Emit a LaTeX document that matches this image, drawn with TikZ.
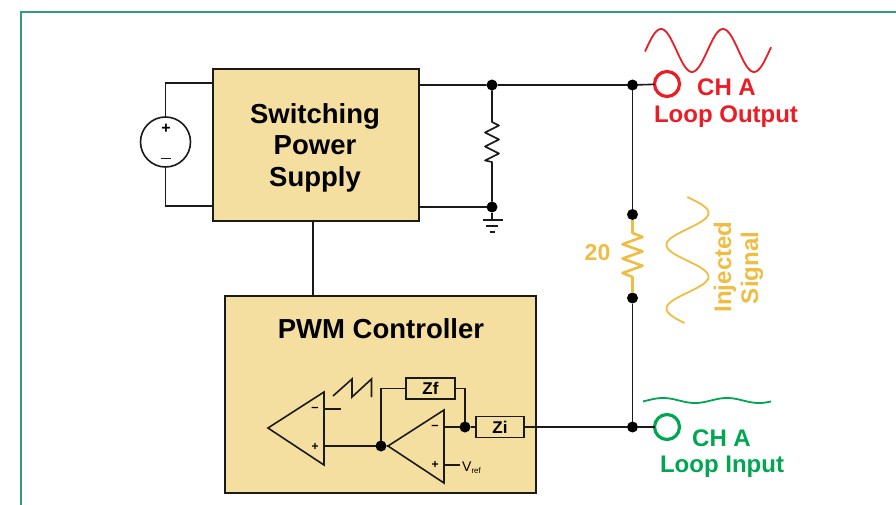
\documentclass[tikz,border=0pt]{standalone}
\usepackage{fontspec}
\setmainfont{Liberation Sans}
\definecolor{boxfill}{HTML}{F5DFA0}
\definecolor{wavered}{HTML}{ED1C24}
\definecolor{wavegreen}{HTML}{00A651}
\definecolor{waveyellow}{HTML}{F0BC42}
\definecolor{framegreen}{HTML}{2F9E7A}
\definecolor{ink}{HTML}{1A1A1A}
\newcommand{\fs}[1]{\fontsize{#1}{#1}\selectfont}
\tikzset{
  wire/.style={draw=ink,line width=1.6pt},
  block/.style={draw=ink,line width=1.6pt,fill=boxfill,inner sep=0pt,outer sep=0pt},
  zbox/.style={block,font=\fs{17}\bfseries},
  dot/.style={circle,fill=black,inner sep=0pt,minimum size=11pt,outer sep=0pt},
  probe/.style={circle,draw,fill=white,line width=3.2pt,inner sep=0pt,minimum size=25pt,outer sep=0pt},
  lab/.style={anchor=base,inner sep=0pt,font=\fs{24}\bfseries},
  title/.style={anchor=base,inner sep=0pt,font=\fs{27.5}\bfseries},
  sign/.style={inner sep=0pt,font=\fs{12}\bfseries},
  wave/.style={line width=1.8pt,smooth,samples=90}
}
\begin{document}
\begin{tikzpicture}[x=1pt,y=-1pt,line join=miter]
\useasboundingbox (0,0) rectangle (896,505);
\draw[framegreen,line width=1.5pt] (896,12) -- (21,12) -- (21,505);

% blocks
\node[block,minimum width=206pt,minimum height=152pt] (sup) at (316,145) {};
\node[title] (t1) at (315,124) {Switching};
\node[title] (t2) at (315,155) {Power};
\node[title] (t3) at (315,186) {Supply};
\node[block,minimum width=311pt,minimum height=197pt] (pwm) at (380.5,394.5) {};
\node[title] (t4) at (381,338.5) {PWM Controller};
\draw[wire] (313,221) coordinate (supb) -- (313,296) coordinate (pwmt);

% source
\node[circle,draw=ink,line width=1.6pt,fill=white,minimum size=50pt,inner sep=0pt,outer sep=0pt] (src) at (165.5,142) {};
\node[sign,font=\fs{16}\bfseries] (srcp) at (166,129) {+};
\draw[ink,line width=1.4pt] (160.5,158.5) coordinate (mL) -- (171,158.5) coordinate (mR);
\coordinate (sa) at (213,83);
\coordinate (sb) at (213,206);
\draw[wire] (src.north) |- (sa);
\draw[wire] (src.south) |- (sb);

% output rail
\node[dot] (d1) at (492,85) {};
\node[dot] (d2) at (492,207) {};
\node[dot] (d3) at (632.5,85) {};
\node[dot] (d4) at (632.5,214.5) {};
\node[dot] (d5) at (632.5,298) {};
\node[dot] (d6) at (632.5,427) {};
\node[probe,draw=wavered] (pa) at (667,84) {};
\node[probe,draw=wavegreen] (pb) at (667,427) {};
\draw[wire] (419,85) -- (d1) -- (d3) -- (pa);
\draw[wire] (419,207) -- (d2);
\draw[wire] (d3) -- (d4);
\draw[wire] (d5) -- (d6);
\draw[wire] (d6) -- (pb);

% load resistor
\coordinate (r1t) at (492,122);
\coordinate (r1b) at (492,162);
\draw[wire,line join=round] (d1) -- (r1t) -- ++(7,3.5) -- ++(-14,7) -- ++(14,7) -- ++(-14,7) -- ++(14,7) -- ++(-14,7) -- (r1b) -- (d2);

% ground
\coordinate (g0) at (492,220);
\draw[wire] (d2) -- (g0);
\draw[ink,line width=1.6pt] (482.5,220) -- (502.5,220);
\draw[ink,line width=1.6pt] (486,226) -- (498,226);
\draw[ink,line width=1.6pt] (489.5,232) -- (494.5,232);

% injection resistor
\coordinate (r2t) at (632.5,233);
\coordinate (r2b) at (632.5,277);
\draw[waveyellow,line width=2.6pt,line join=round] (d4) -- (r2t) -- ++(10,4) -- ++(-20,7.2) -- ++(20,7.2) -- ++(-20,7.2) -- ++(20,7.2) -- ++(-20,7.2) -- (r2b) -- (d5);
\node[anchor=base,inner sep=0pt,font=\fs{23}\bfseries,text=waveyellow] (n20) at (597.5,260) {20};

% waves
\draw[wavered,wave] plot[domain=645:771] (\x,{50.5-21.5*cos((\x-661)/62*360)});
\draw[waveyellow,wave] plot[domain=197:323] ({687.5+21*cos((\x-213)/63.7*360)},\x);
\draw[wavegreen,wave] plot[domain=643:771] (\x,{400.5-2.5*cos((\x-663)/64*360)});

% labels
\node[lab,text=wavered] (la1) at (726.5,96) {CH A};
\node[lab,text=wavered] (la2) at (726,122.5) {Loop Output};
\node[lab,text=wavegreen] (lb1) at (721.5,446.5) {CH A};
\node[lab,text=wavegreen] (lb2) at (722,472.5) {Loop Input};
\node[lab,text=waveyellow,rotate=90] (li1) at (731,267) {Injected};
\node[lab,text=waveyellow,rotate=90] (li2) at (758,268) {Signal};

% op amps
\coordinate (a1t) at (268,428);
\coordinate (a1u) at (324,392);
\coordinate (a1d) at (324,465);
\draw[ink,line width=1.6pt,line join=miter] (a1t) -- (a1u) -- (a1d) -- cycle;
\coordinate (a2t) at (388,446);
\coordinate (a2u) at (444,410);
\coordinate (a2d) at (444,483);
\draw[ink,line width=1.6pt,line join=miter] (a2t) -- (a2u) -- (a2d) -- cycle;
\node[sign] (m1) at (315,410) {\fs{13}\raisebox{1pt}{–}};
\node[sign] (p1) at (315,447) {+};
\node[sign] (m2) at (435,428) {\fs{13}\raisebox{1pt}{–}};
\node[sign] (p2) at (435,465) {+};

% compensation
\node[zbox,minimum width=49pt,minimum height=21pt] (zf) at (430.5,388.5) {Zf};
\node[zbox,minimum width=48pt,minimum height=21pt] (zi) at (500,427) {Zi};
\node[dot] (d7) at (381,446) {};
\node[dot] (d8) at (465,427) {};
\draw[wire] (324,446) -- (d7) -- (a2t);
\draw[wire] (d7) |- (zf.west);
\draw[wire] (zf.east) -| (d8);
\draw[wire] (444,427) -- (d8) -- (zi.west);
\draw[wire] (zi.east) -- (d6);
\draw[wire] (324,409) -- (341,409);
\draw[wire] (444,465) -- (460,465);
\node[anchor=base west,inner sep=0pt,font=\fs{14}] (vr) at (462,471) {V\textsubscript{\fs{8}ref}};
\draw[ink,line width=1.6pt,line join=miter] (333,396) -- (352,379) -- (352,397) -- (371.5,379) -- (371.5,397);
\end{tikzpicture}
\end{document}
